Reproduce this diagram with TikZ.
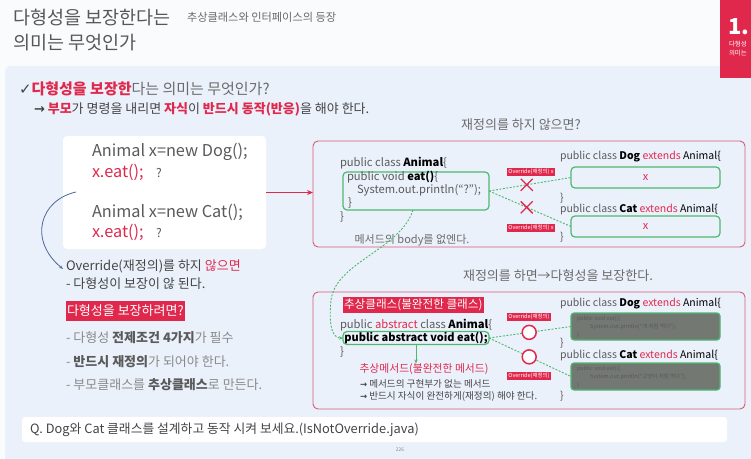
\documentclass[tikz,border=0pt]{standalone}
\usepackage{fontspec}
\setmainfont{Noto Sans CJK KR}
\newfontfamily\djv{DejaVu Sans}
\usetikzlibrary{shapes.misc,calc,arrows.meta}
\definecolor{redc}{HTML}{E0284C}
\definecolor{boxred}{HTML}{D65A72}
\definecolor{grayt}{HTML}{6A6A6A}
\definecolor{lgrayt}{HTML}{8A8A8A}
\definecolor{darkc}{HTML}{444444}
\definecolor{codeg}{HTML}{5A5A5A}
\definecolor{panel}{HTML}{EBF1FB}
\definecolor{topbg}{HTML}{FAFBFD}
\definecolor{greenc}{HTML}{4DB870}
\definecolor{grayfill}{HTML}{737873}
\definecolor{bluec}{HTML}{4A6A9A}
\newcommand\myfs[1]{\fontsize{#1}{#1}\selectfont}
\begin{document}
\begin{tikzpicture}[x=1pt,y=-1pt,
  every node/.style={inner sep=0pt, outer sep=0pt},
  t/.style={anchor=west, inner sep=0pt, text=grayt},
  code/.style={anchor=west, inner sep=0pt, text=codeg, font=\myfs{10.5}},
  codeb/.style={anchor=west, inner sep=0pt, text=codeg, font=\myfs{11.2}},
  gbox/.style={draw=greenc, line width=1.2pt, rounded corners=4pt},
  graybox/.style={draw=greenc, fill=grayfill, line width=1.2pt, rounded corners=3pt, minimum width=149pt, minimum height=27pt},
  rbox/.style={draw=boxred, line width=0.9pt, rounded corners=5pt, anchor=north west},
  olab/.style={fill=redc, text=white, font=\myfs{5.5}, inner xsep=1pt, inner ysep=1pt},
  gdash/.style={draw=greenc, line width=0.9pt, dash pattern=on 2pt off 1.5pt},
  tiny/.style={anchor=west, text=black!65, font=\myfs{5.5}}
]
\useasboundingbox (0,0) rectangle (751,458);
\fill[topbg] (0,0) rectangle (751,458);
\fill[panel, rounded corners=6pt] (5,66) rectangle (770,480);
\fill[redc] (720,0) rectangle (751,78);

% header
\node[t, font=\myfs{18.5}, text=darkc!90] (t1) at (13,18) {다형성을 보장한다는};
\node[t, font=\myfs{18.5}, text=darkc!90] (t2) at (13,43) {의미는 무엇인가};
\node[t, font=\myfs{11.2}, text=grayt] (sub) at (187,17) {추상클래스와 인터페이스의 등장};
\node[anchor=west, font=\bfseries\myfs{22}, text=white] (n1) at (728,27) {1.};
\node[t, font=\myfs{6.5}, text=white] (n2) at (729,44) {다형성};
\node[t, font=\myfs{6.5}, text=white] (n3) at (729,53) {의미는};

% intro lines
\node[t, font=\myfs{15}] (l1) at (19,89) {{\djv\myfs{15}\color{darkc}✓}{\color{redc}\bfseries 다형성을 보장한}다는 의미는 무엇인가?};
\node[t, font=\myfs{13}, text=darkc] (l2) at (34,109) {{\djv\bfseries\myfs{13}→} {\color{redc}\bfseries 부모}가 명령을 내리면 {\color{redc}\bfseries 자식}이 {\color{redc}\bfseries 반드시 동작(반응)}을 해야 한다.};

% left code box
\node[fill=white, rounded corners=4pt, minimum width=203pt, minimum height=113pt, anchor=north west] (lb) at (63,136) {};
\node[t, font=\myfs{16.3}, text=codeg] (c1) at (92,152) {Animal x=new Dog();};
\node[t, font=\myfs{16.3}, text=redc] (c2) at (92,172) {x.eat();};
\node[t, font=\myfs{12}, text=codeg] (q1) at (156,173) {?};
\node[t, font=\myfs{16.3}, text=codeg] (c3) at (92,212) {Animal x=new Cat();};
\node[t, font=\myfs{16.3}, text=redc] (c4) at (92,232) {x.eat();};
\node[t, font=\myfs{12}, text=codeg] (q2) at (156,233) {?};

% left notes
\node[t, font=\myfs{13}, text=darkc] (ov) at (66,266) {Override(재정의)를 하지 {\color{redc}않으면}};
\node[t, font=\myfs{13}, text=darkc] (ov2) at (66,284) {- 다형성이 보장이 않 된다.};
\node[anchor=west, fill=redc, text=white, font=\myfs{13}, inner xsep=1pt, minimum height=20pt] (hl) at (66,311) {다형성을 보장하려면?};
\node[t, font=\myfs{13}, text=lgrayt] (p1) at (66,338) {- 다형성 {\bfseries\color{codeg}전제조건 4가지}가 필수};
\node[t, font=\myfs{13}, text=lgrayt] (p2) at (66,362) {- {\bfseries\color{codeg}반드시 재정의}가 되어야 한다.};
\node[t, font=\myfs{13}, text=lgrayt] (p3) at (66,385) {- 부모클래스를 {\bfseries\color{codeg}추상클래스}로 만든다.};

\coordinate (bs) at (76,192);
\draw[bluec, line width=0.8pt, -{Stealth[length=4pt,width=3pt]}] (bs) .. controls (40,200) and (28,240) .. ([xshift=-3pt,yshift=-3pt]ov.west);

% right top box
\node[font=\myfs{13}, text=grayt] (rtt) at (521,125) {재정의를 하지 않으면?};
\node[rbox, minimum width=432pt, minimum height=106pt] (rt) at (313,141) {};
\draw[redc, line width=1.2pt, -{Stealth[length=6pt,width=5pt]}] (lb.east) -- (lb.east -| rt.west);

\node[codeb] (a1) at (340,163) {public class {\bfseries\color{black}Animal}\{};
\node[gbox, minimum width=146pt, minimum height=38pt] (gA) at (416,191) {};
\node[codeb] (a2) at (347,177) {public void {\bfseries\color{black}eat()}\{};
\node[codeb] (a3) at (357,190) {System.out.println(“?”);};
\node[codeb] (a4) at (348,203) {\}};
\node[codeb] (a5) at (340,217) {\}};
\node[font=\myfs{11}, text=grayt] (bd) at (412,240) {메서드의 body를 없엔다.};

\node[code] (d1) at (560,157) {public class {\bfseries\color{black}Dog} {\color{redc}extends} {\color{black}Animal\{}};
\node[gbox, minimum width=149pt, minimum height=21pt] (dA) at (645.5,177.5) {};
\node[font=\myfs{11}, text=redc] (dx) at (dA) {x};
\node[code] (d2) at (560,198) {\}};
\node[code] (e1) at (560,210) {public class {\bfseries\color{black}Cat} {\color{redc}extends} {\color{black}Animal\{}};
\node[gbox, minimum width=149pt, minimum height=21pt] (cA) at (645.5,226.5) {};
\node[font=\myfs{11}, text=redc] (cx) at (cA) {x};
\node[code] (e2) at (560,237) {\}};

\draw[gdash] (gA.east) -- (dA.west);
\draw[gdash] (gA.east) -- (cA.west);
\node[cross out, draw=redc, line width=1.3pt, minimum size=12pt] (x1) at ($(gA.east)!0.46!(dA.west)$) {};
\node[cross out, draw=redc, line width=1.3pt, minimum size=12pt] (x2) at ($(gA.east)!0.46!(cA.west)$) {};
\node[olab] (o1) at (531,172) {Override(재정의) x};
\node[olab] (o2) at (531,228) {Override(재정의) x};

% right bottom box
\node[font=\myfs{13}, text=grayt] (rbt) at (558,276) {재정의를 하면→다형성을 보장한다.};
\node[rbox, minimum width=432pt, minimum height=117pt] (rb) at (313,292) {};
\node[anchor=north west, fill=redc, text=white, font=\myfs{11.6}, inner xsep=1pt, minimum height=16pt] (ac) at (343,297) {추상클래스(불완전한 클래스)};
\node[codeb] (b1) at (340,325) {public {\color{redc}abstract} class {\bfseries\color{black}Animal}\{};
\node[gbox, minimum width=146pt, minimum height=13pt, font=\bfseries\myfs{11}, text=black] (gB) at (416,338) {public abstract void eat();};
\node[codeb] (b2) at (340,352) {\}};
\node[font=\myfs{10.8}, text=redc] (am) at (424,369) {추상메서드(불완전한 메서드)};
\node[t, font=\myfs{9.6}, text=darkc] (am1) at (360,384) {{\djv\bfseries\myfs{8.5}→} 메서드의 구현부가 없는 메서드};
\node[t, font=\myfs{9.6}, text=darkc] (am2) at (360,396) {{\djv\bfseries\myfs{8.5}→} 반드시 자식이 완전하게(재정의) 해야 한다.};
\draw[greenc, line width=1pt, -{Stealth[length=4pt,width=3.5pt]}] (gB.south) -- (gB.south |- am.north);

\node[code] (f1) at (560,304) {public class {\bfseries\color{black}Dog} {\color{redc}extends} {\color{black}Animal\{}};
\node[graybox] (dB) at (645.5,326.5) {};
\node[tiny] (f2) at (577,319) {public void eat()\{};
\node[tiny] (f3) at (590,327) {System.out.println(“개 처럼 먹다”);};
\node[tiny] (f4) at (577,335) {\}};
\node[code] (f5) at (560,343) {\}};
\node[code] (h1) at (560,356) {public class {\bfseries\color{black}Cat} {\color{redc}extends} {\color{black}Animal\{}};
\node[graybox] (cB) at (645.5,376.5) {};
\node[tiny] (h2) at (577,369) {public void eat()\{};
\node[tiny] (h3) at (590,377) {System.out.println(“고양이 처럼 먹다”);};
\node[tiny] (h4) at (577,385) {\}};
\node[code] (h5) at (560,396) {\}};

\draw[gdash] (gB.east) -- (dB.west);
\draw[gdash] (gB.east) -- (cB.west);
\node[circle, draw=redc, fill=white, line width=1.5pt, minimum size=14pt] (r1) at ($(gB.east)!0.49!(dB.west)$) {};
\node[circle, draw=redc, fill=white, line width=1.5pt, minimum size=14pt] (r2) at ($(gB.east)!0.49!(cB.west)$) {};
\node[olab] (o3) at (529,317) {Override(재정의)};
\node[olab] (o4) at (529,376) {Override(재정의)};

% dashed green curve
\draw[gdash, -{Stealth[length=4pt,width=3.5pt]}] ([xshift=-3pt]gA.south) .. controls (400,250) and (336,262) .. (331,300) .. controls (328,330) and (334,338) .. (gB.west);

% bottom question
\node[fill=white, rounded corners=3pt, anchor=north west, minimum width=705pt, minimum height=25pt] (qb) at (22,417) {};
\node[t, font=\myfs{12.8}, text=darkc] (qt) at (30,430) {Q. Dog와 Cat 클래스를 설계하고 동작 시켜 보세요.(IsNotOverride.java)};
\node[font=\myfs{5}, text=lgrayt] (pg) at (400,450) {226};
\end{tikzpicture}
\end{document}
